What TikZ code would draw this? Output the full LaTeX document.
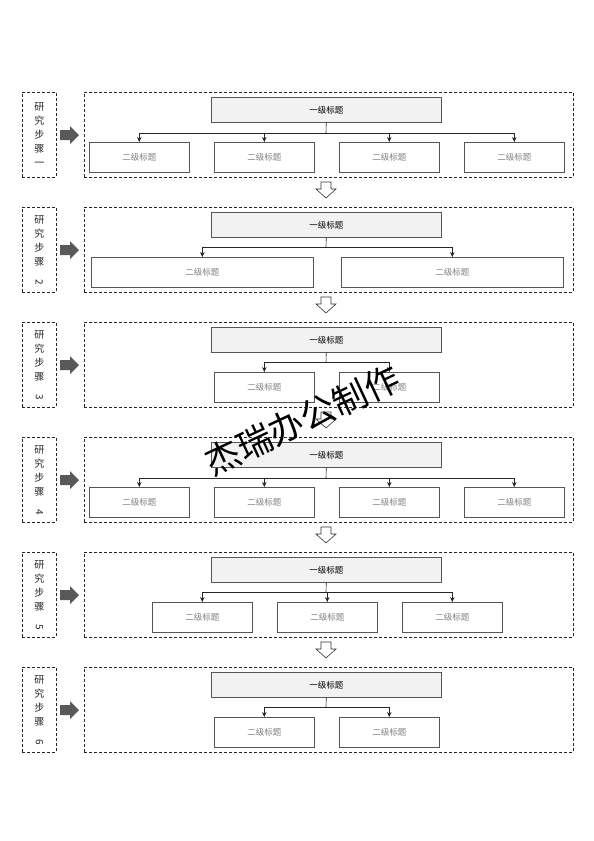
\documentclass[tikz,border=0pt]{standalone}
\usepackage{fontspec}
\usepackage{graphicx}
\newfontfamily\cjk{Noto Sans CJK SC}
\usetikzlibrary{arrows.meta,calc}
\definecolor{edge}{HTML}{555555}
\definecolor{topfill}{HTML}{F2F2F2}
\definecolor{subtxt}{HTML}{808080}
\definecolor{arrowfill}{HTML}{595959}
\begin{document}
\begin{tikzpicture}[x=1pt,y=-1pt,
  outer/.style={draw=black!85, line width=0.7pt, dash pattern=on 3pt off 2pt, anchor=north west, inner sep=0pt},
  stepbox/.style={outer, minimum width=34pt, minimum height=85pt},
  mainbox/.style={outer, minimum width=489pt, minimum height=85pt},
  topbox/.style={draw=edge, line width=0.6pt, fill=topfill, anchor=north west, minimum width=230pt, minimum height=25pt, inner sep=0pt, font=\cjk\fontsize{8.5}{10}\selectfont},
  subbox/.style={draw=edge, line width=0.6pt, fill=white, anchor=north west, minimum width=100pt, minimum height=30pt, inner sep=0pt, text=subtxt, font=\cjk\fontsize{8.5}{10}\selectfont},
  widebox/.style={subbox, minimum width=222pt},
  steptxt/.style={align=center, font=\cjk\fontsize{10}{14}\selectfont, text=black!85},
  conn/.style={draw=black!85, line width=0.6pt},
  connarr/.style={conn, -{Stealth[length=5pt,width=4.5pt]}},
  rarrow/.style={fill=arrowfill, draw=none},
  darrow/.style={draw=black!80, line width=0.6pt, fill=white}
]
\useasboundingbox (0,0) rectangle (594,841);

% ---------- generic per-row frame ----------
\foreach \i/\lab in {1/{研\\究\\步\\骤\\一},2/{研\\究\\步\\骤\\\rotatebox{-90}{2}},3/{研\\究\\步\\骤\\\rotatebox{-90}{3}},4/{研\\究\\步\\骤\\\rotatebox{-90}{4}},5/{研\\究\\步\\骤\\\rotatebox{-90}{5}},6/{研\\究\\步\\骤\\\rotatebox{-90}{6}}}{
  \pgfmathsetmacro{\T}{92+115*(\i-1)}
  \node[stepbox] (s\i) at (22,\T) {};
  \node[steptxt] (sl\i) at (s\i.center) {\lab};
  \node[mainbox] (m\i) at (84,\T) {};
  \node[topbox] (t\i) at (211,\T+5) {一级标题};
  % right arrow
  \fill[rarrow] (60,\T+38) -- (70,\T+38) -- (70,\T+34) -- (79,\T+43) -- (70,\T+52) -- (70,\T+48) -- (60,\T+48) -- cycle;
}

% down hollow arrows between rows
\foreach \i in {1,...,5}{
  \pgfmathsetmacro{\B}{92+115*(\i-1)+85}
  \draw[darrow] (321,\B+5) -- (331,\B+5) -- (331,\B+12) -- (336,\B+12) -- (326,\B+21) -- (316,\B+12) -- (321,\B+12) -- cycle;
}

% ---------- row 1 ----------
\node[subbox] (c11) at (89,142) {二级标题};
\node[subbox] (c12) at (214,142) {二级标题};
\node[subbox] (c13) at (339,142) {二级标题};
\node[subbox] (c14) at (464,142) {二级标题};
\coordinate (b1) at (326,133);
\draw[conn] (t1.south) -- (b1);
\foreach \c in {c11,c12,c13,c14}{\draw[connarr] (b1) -| (\c.north);}

% ---------- row 2 ----------
\node[widebox] (c21) at (91,257) {二级标题};
\node[widebox] (c22) at (341,257) {二级标题};
\coordinate (b2) at (326,247);
\draw[conn] (t2.south) -- (b2);
\foreach \c in {c21,c22}{\draw[connarr] (b2) -| (\c.north);}

% ---------- row 3 ----------
\node[subbox] (c31) at (214,372) {二级标题};
\node[subbox] (c32) at (339,372) {二级标题};
\coordinate (b3) at (326,362);
\draw[conn] (t3.south) -- (b3);
\foreach \c in {c31,c32}{\draw[connarr] (b3) -| (\c.north);}

% ---------- row 4 ----------
\node[subbox] (c41) at (89,487) {二级标题};
\node[subbox] (c42) at (214,487) {二级标题};
\node[subbox] (c43) at (339,487) {二级标题};
\node[subbox] (c44) at (464,487) {二级标题};
\coordinate (b4) at (326,478);
\draw[conn] (t4.south) -- (b4);
\foreach \c in {c41,c42,c43,c44}{\draw[connarr] (b4) -| (\c.north);}

% ---------- row 5 ----------
\node[subbox] (c51) at (152,602) {二级标题};
\node[subbox] (c52) at (277,602) {二级标题};
\node[subbox] (c53) at (402,602) {二级标题};
\coordinate (b5) at (326,592);
\draw[conn] (t5.south) -- (b5);
\foreach \c in {c51,c52,c53}{\draw[connarr] (b5) -| (\c.north);}

% ---------- row 6 ----------
\node[subbox] (c61) at (214,717) {二级标题};
\node[subbox] (c62) at (339,717) {二级标题};
\coordinate (b6) at (326,707);
\draw[conn] (t6.south) -- (b6);
\foreach \c in {c61,c62}{\draw[connarr] (b6) -| (\c.north);}

% watermark
\node[rotate=25, font=\cjk\fontsize{35}{40}\selectfont, text=black] (wm) at (302,420) {杰瑞办公制作};
\end{tikzpicture}
\end{document}
